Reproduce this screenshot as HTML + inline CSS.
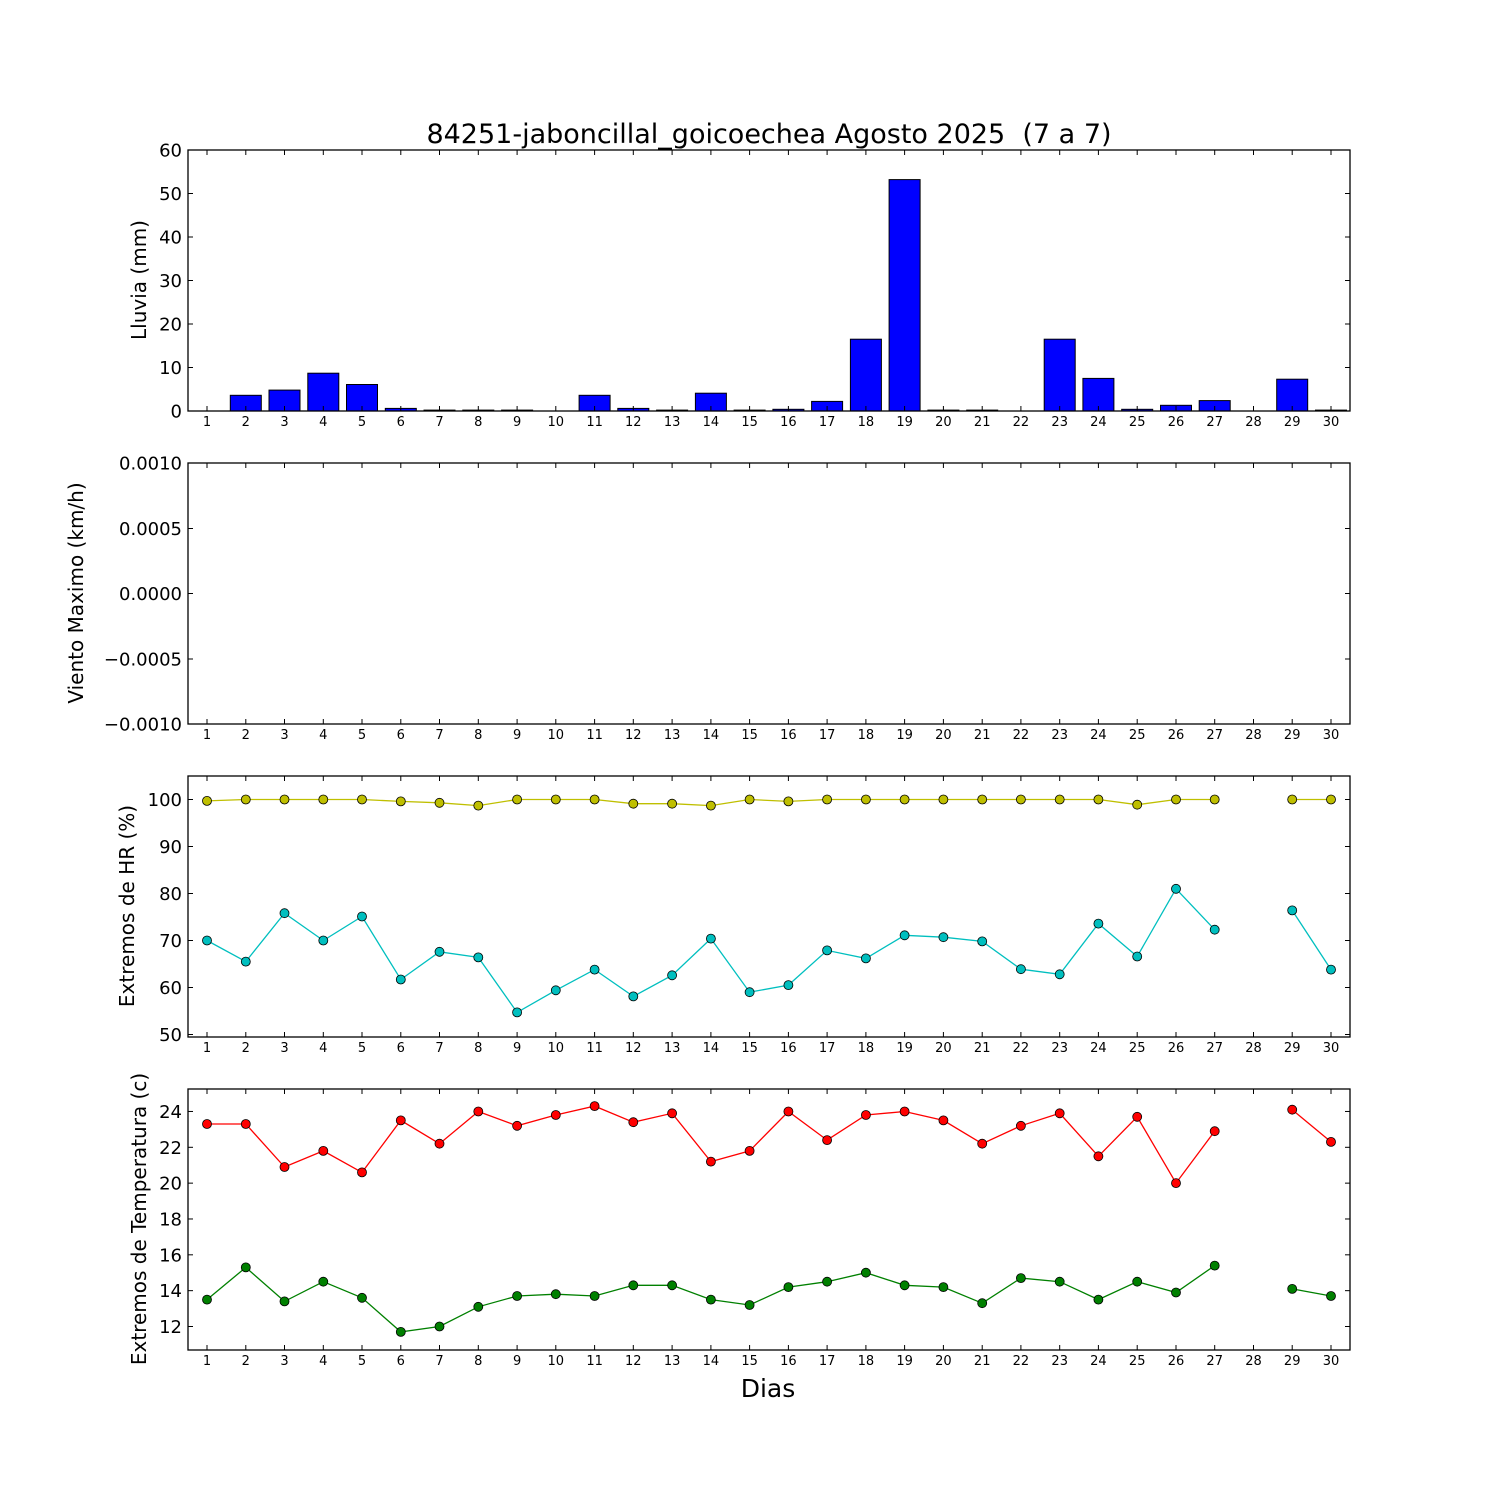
<!DOCTYPE html>
<html><head><meta charset="utf-8"><style>
html,body{margin:0;padding:0;background:#fff;}
svg{display:block;font-family:"DejaVu Sans","Liberation Sans",sans-serif;}
</style></head><body>
<svg id="s" width="1500" height="1500" xmlns="http://www.w3.org/2000/svg"></svg>
<script>
const s=document.getElementById('s');let h='';
const X=d=>207+(d-1)*38.758;
const L=188,R=1350;
function frame(t,b){
  h+=`<rect x="${L}" y="${t}" width="${R-L}" height="${b-t}" fill="none" stroke="#000" stroke-width="1.3"/>`;
  for(let d=1;d<=30;d++){const x=X(d).toFixed(1);
    h+=`<line x1="${x}" y1="${b}" x2="${x}" y2="${b-5}" stroke="#000"/><line x1="${x}" y1="${t}" x2="${x}" y2="${t+5}" stroke="#000"/>`;
    h+=`<text x="${x}" y="${b+15}" font-size="13" text-anchor="middle">${d}</text>`;}
}
function yt(t,b,y,lab){
  h+=`<line x1="${L}" y1="${y}" x2="${L+5}" y2="${y}" stroke="#000"/><line x1="${R}" y1="${y}" x2="${R-5}" y2="${y}" stroke="#000"/>`;
  h+=`<text x="${L-6}" y="${y+6.5}" font-size="18" text-anchor="end">${lab}</text>`;
}
function ylab(x,cy,txt){h+=`<text transform="translate(${x},${cy}) rotate(-90)" font-size="20" text-anchor="middle">${txt}</text>`;}
const rain=[0,3.6,4.8,8.7,6.1,0.6,0.2,0.2,0.2,0,3.6,0.6,0.2,4.1,0.2,0.4,2.2,16.5,53.2,0.2,0.2,0,16.5,7.5,0.4,1.3,2.4,0,7.3,0.2];
const Y1=v=>411-v*4.35;
rain.forEach((v,i)=>{if(v>0){const x=X(i+1)-15.5,y=Y1(v);h+=`<rect x="${x.toFixed(1)}" y="${y.toFixed(1)}" width="31" height="${(411-y).toFixed(1)}" fill="#0000ff" stroke="#000" stroke-width="1"/>`;}});
frame(150,411);
for(let v=0;v<=60;v+=10)yt(150,411,Y1(v),v);
ylab(146,280,'Lluvia (mm)');
frame(463,724);
[['0.0010',463],['0.0005',528.5],['0.0000',593.5],['\u22120.0005',659],['\u22120.0010',724]].forEach(a=>yt(463,724,a[1],a[0]));
ylab(83,593,'Viento Maximo (km/h)');
function series(vals,Y,col){
  let segs=[],cur=[];
  vals.forEach((v,i)=>{if(v==null){if(cur.length)segs.push(cur);cur=[];}else cur.push([X(i+1),Y(v)]);});
  if(cur.length)segs.push(cur);
  segs.forEach(sg=>{if(sg.length>1)h+=`<polyline points="${sg.map(p=>p[0].toFixed(1)+','+p[1].toFixed(1)).join(' ')}" fill="none" stroke="${col}" stroke-width="1.3"/>`;});
  segs.flat().forEach(p=>{h+=`<circle cx="${p[0].toFixed(1)}" cy="${p[1].toFixed(1)}" r="4.5" fill="${col}" stroke="#000" stroke-width="0.8"/>`;});
}
const Y3=v=>799.5+(100-v)*4.7;
const hmax=[99.7,100,100,100,100,99.6,99.3,98.7,100,100,100,99.1,99.1,98.7,100,99.6,100,100,100,100,100,100,100,100,98.9,100,100,null,100,100];
const hmin=[70,65.5,75.8,70,75.1,61.7,67.6,66.4,54.7,59.4,63.8,58.1,62.6,70.4,59,60.5,67.9,66.2,71.1,70.7,69.8,63.9,62.8,73.6,66.6,81,72.3,null,76.4,63.8];
series(hmax,Y3,'#bfbf00');series(hmin,Y3,'#00bfbf');
frame(776,1037);
for(let v=50;v<=100;v+=10)yt(776,1037,Y3(v),v);
ylab(134,906,'Extremos de HR (%)');
const Y4=v=>1326.5-(v-12)*17.92;
const tmax=[23.3,23.3,20.9,21.8,20.6,23.5,22.2,24,23.2,23.8,24.3,23.4,23.9,21.2,21.8,24,22.4,23.8,24,23.5,22.2,23.2,23.9,21.5,23.7,20,22.9,null,24.1,22.3];
const tmin=[13.5,15.3,13.4,14.5,13.6,11.7,12,13.1,13.7,13.8,13.7,14.3,14.3,13.5,13.2,14.2,14.5,15,14.3,14.2,13.3,14.7,14.5,13.5,14.5,13.9,15.4,null,14.1,13.7];
series(tmax,Y4,'#ff0000');series(tmin,Y4,'#008000');
frame(1089,1350);
for(let v=12;v<=24;v+=2)yt(1089,1350,Y4(v),v);
ylab(146,1219,'Extremos de Temperatura (c)');
h+=`<text x="769" y="143" font-size="27" text-anchor="middle">84251-jaboncillal_goicoechea Agosto 2025 &#160;(7 a 7)</text>`;
h+=`<text x="768" y="1397" font-size="25" text-anchor="middle">Dias</text>`;
s.innerHTML=h;
</script>
</body></html>
